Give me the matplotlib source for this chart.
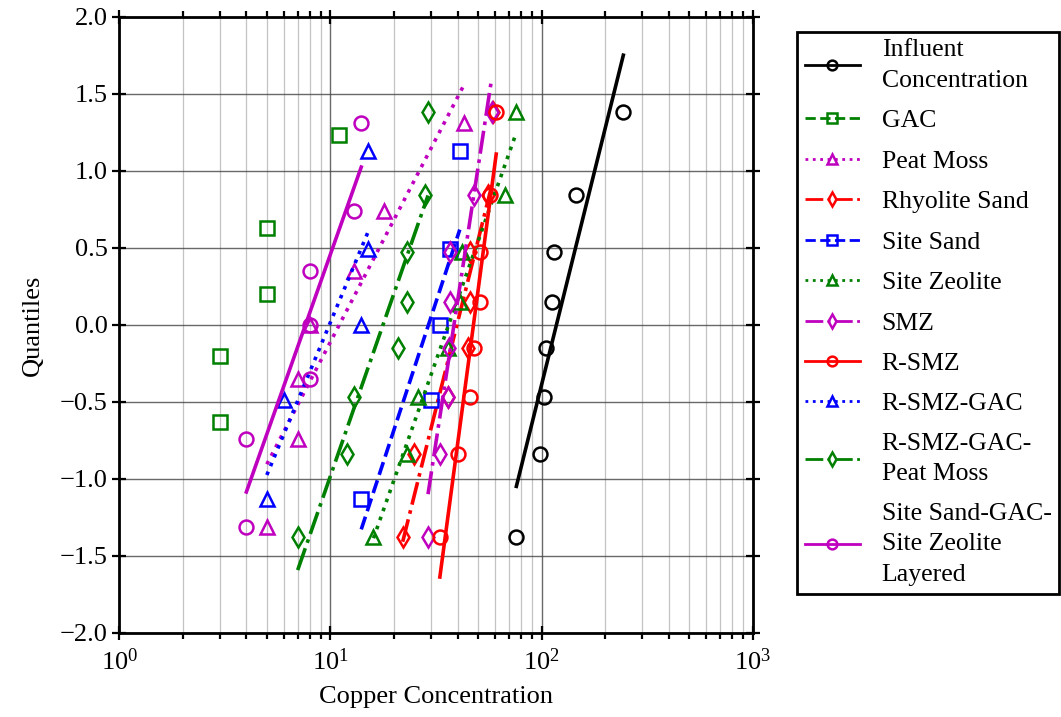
import numpy as np
import matplotlib
matplotlib.use("Agg")
import matplotlib.pyplot as plt
from matplotlib.lines import Line2D

plt.rcParams['font.family'] = ['Liberation Serif', 'DejaVu Serif']
plt.rcParams['mathtext.fontset'] = 'stix'
plt.rcParams['font.size'] = 19

# normal quantiles (probability plot positions) for n = 5, 6, 7, 8
q5 = [-1.13, -0.49, 0.0, 0.49, 1.13]
q6 = [-0.63, -0.20, 0.20, 0.63, 1.23]   # lowest GAC value not on the log axis
q7 = [-1.31, -0.74, -0.35, 0.0, 0.35, 0.74, 1.31]
q8 = [-1.38, -0.84, -0.47, -0.15, 0.15, 0.47, 0.84, 1.38]

# copper concentrations, sorted
influent = [76, 98, 103, 105, 112, 115, 145, 244]
gac = [3, 3, 5, 5, 11]
peat_moss = [5, 7, 7, 8, 13, 18, 43]
rhyolite = [22, 25, 36, 45, 46, 46, 56, 59]
site_sand = [14, 30, 33, 37, 41]
site_zeolite = [16, 23, 26, 36, 41, 42, 67, 76]
smz = [29, 33, 36, 36.6, 37, 37, 48, 58]
r_smz = [33, 40, 46, 48, 51, 51, 57, 61]
r_smz_gac = [5, 6, 14, 15, 15]
r_smz_gac_pm = [7, 12, 13, 21, 23, 23, 28, 29]
layered = [4, 4, 8, 8, 8, 13, 14]

labels = ["Influent\nConcentration", "GAC", "Peat Moss", "Rhyolite Sand",
          "Site Sand", "Site Zeolite", "SMZ", "R-SMZ", "R-SMZ-GAC",
          "R-SMZ-GAC-\nPeat Moss", "Site Sand-GAC-\nSite Zeolite\nLayered"]
values = [influent, gac, peat_moss, rhyolite, site_sand, site_zeolite,
          smz, r_smz, r_smz_gac, r_smz_gac_pm, layered]
quants = [q8, q6, q7, q8, q5, q8, q8, q8, q5, q8, q7]

colors = ['k', 'g', 'm', 'r', 'b', 'g', 'm', 'r', 'b', 'g', 'm']
markers = ['o', 's', '^', 'd', 's', '^', 'd', 'o', '^', 'd', 'o']
styles = ['-', '--', ':', '-.', '--', ':', '-.', '-', ':', '-.', '-']
fitted = [True, False, True, True, True, True, True, True, True, True, True]

fig = plt.figure(figsize=(10.61, 7.17), dpi=100)
ax = fig.add_axes([0.1124, 0.1172, 0.597, 0.8595])

handles = []
for x, q, c, m, ls, lab, f in zip(values, quants, colors, markers, styles, labels, fitted):
    ax.plot(x, q, ls='none', marker=m, ms=10, mfc='none', mec=c, mew=1.8)
    if f:
        slope, icpt = np.polyfit(np.log10(x), q, 1)
        xe = np.array([min(x), max(x)])
        ax.plot(xe, slope * np.log10(xe) + icpt, color=c, ls=ls, lw=2.6)
    handles.append(Line2D([], [], color=c, ls=ls, lw=2, marker=m, ms=7,
                          mfc='none', mec=c, mew=1.8, label=lab))

ax.set_xscale('log')
ax.set_xlim(1, 1000)
ax.set_ylim(-2, 2)
ax.set_yticks(np.arange(-2, 2.01, 0.5))
ax.yaxis.set_major_formatter(matplotlib.ticker.FuncFormatter(
    lambda v, p: ('%.1f' % v).replace('-', '\u2212')))
ax.grid(True, which='major', color='#444444', lw=1.0, alpha=0.8)
ax.grid(True, which='minor', axis='x', color='#aaaaaa', lw=0.9, alpha=0.7)
ax.set_axisbelow(True)
ax.tick_params(which='both', top=True, right=True, width=1.6)
ax.tick_params(which='major', direction='inout', length=10)
ax.tick_params(which='minor', direction='out', length=4)
ax.tick_params(axis='x', which='major', pad=6)
for s in ax.spines.values():
    s.set_linewidth(2)

ax.set_xlabel("Copper Concentration", labelpad=8)
ax.set_ylabel("Quantiles", labelpad=11)

leg = fig.legend(handles=handles, loc='upper left', bbox_to_anchor=(0.751, 0.956),
                 bbox_transform=fig.transFigure, borderaxespad=0,
                 fancybox=False, edgecolor='k', framealpha=1,
                 handlelength=2.15, handletextpad=0.85, labelspacing=0.68,
                 borderpad=0.3, fontsize=18.5)
leg.get_frame().set_linewidth(2)
for t in leg.get_texts():
    t.set_linespacing(1.5)

fig.savefig("out.png", dpi=100)
